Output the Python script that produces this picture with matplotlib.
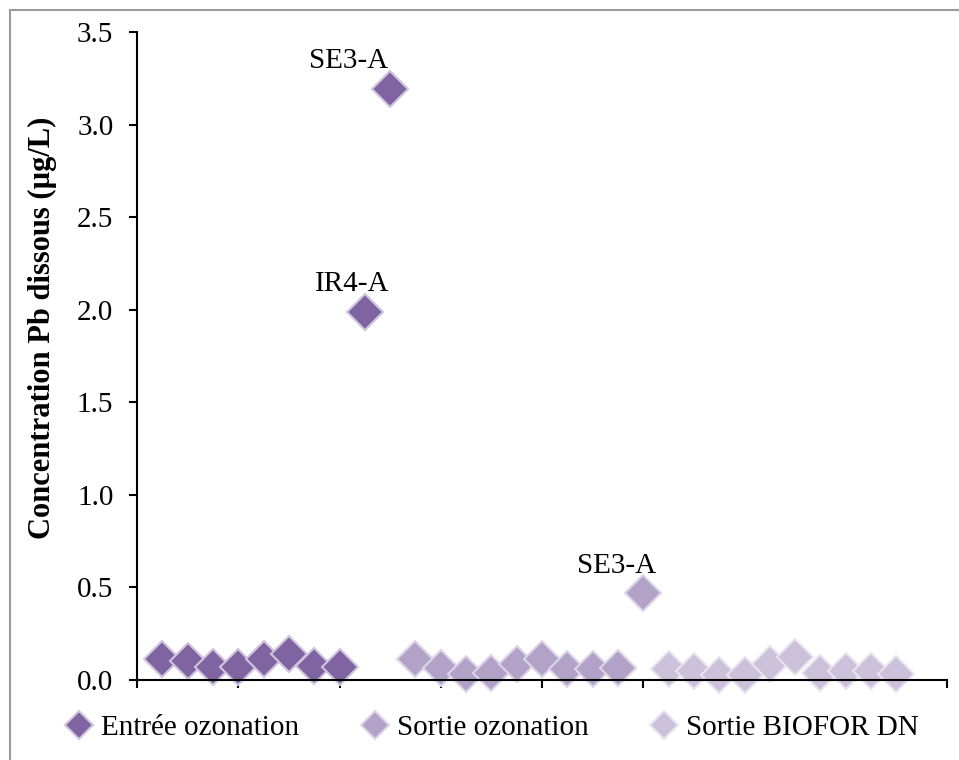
import matplotlib.pyplot as plt
from matplotlib.patches import Rectangle

plt.rcParams['font.family'] = ['Liberation Serif', 'DejaVu Serif']

# x positions are sample numbers along the (unlabelled) axis
x_entree = [1, 2, 3, 4, 5, 6, 7, 8, 9, 10]
y_entree = [0.112, 0.103, 0.070, 0.070, 0.112, 0.140, 0.076, 0.070, 1.99, 3.19]

x_sortie = [11, 12, 13, 14, 15, 16, 17, 18, 19, 20]
y_sortie = [0.112, 0.063, 0.031, 0.036, 0.085, 0.114, 0.058, 0.061, 0.066, 0.468]

x_biofor = [21, 22, 23, 24, 25, 26, 27, 28, 29, 30]
y_biofor = [0.058, 0.050, 0.027, 0.027, 0.085, 0.123, 0.036, 0.050, 0.050, 0.031]

# labelled outliers: (x, y, text)
labels = [(10, 3.19, "SE3-A"), (9, 1.99, "IR4-A"), (20, 0.468, "SE3-A")]
label_offsets = [(-42, 28), (-13, 28), (-27, 27)]  # pixels

W, H = 959, 760
fig = plt.figure(figsize=(W / 100, H / 100), dpi=100)
ax = fig.add_axes([137 / W, (H - 680) / H, 810 / W, 648 / H])

# grey chart border
fig.patches.append(Rectangle((10 / W, -0.1), 1.2, (H - 10) / H + 0.1,
                             transform=fig.transFigure, fill=False,
                             edgecolor='#9a9a9a', lw=1.5))

ms = 18
ax.plot(x_entree, y_entree, 'D', ms=ms, color='#8064A2', mec='#CFC5DE', mew=1.5,
        label='Entrée ozonation', clip_on=False)
ax.plot(x_sortie, y_sortie, 'D', ms=ms, color='#B3A2C7', mec='#DCD4E7', mew=1.5,
        label='Sortie ozonation', clip_on=False)
ax.plot(x_biofor, y_biofor, 'D', ms=ms, color='#CCC1DA', mec='#E8E3EF', mew=1.5,
        label='Sortie BIOFOR DN', clip_on=False)

for (lx, ly, txt), (dx, dy) in zip(labels, label_offsets):
    ax.annotate(txt, (lx, ly), xytext=(dx, dy), textcoords='offset pixels',
                ha='center', va='center', fontsize=21)

ax.set_xlim(0, 32)
ax.set_ylim(0, 3.5)
ax.set_xticks(range(0, 33, 4))
ax.set_xticklabels([])
ax.set_yticks([0, 0.5, 1.0, 1.5, 2.0, 2.5, 3.0, 3.5])
ax.set_yticklabels([f"{v:.1f}" for v in ax.get_yticks()])
ax.tick_params(axis='y', labelsize=21, length=6, width=1.5, pad=11)
ax.tick_params(axis='x', length=6, width=1.5)
for side in ('top', 'right'):
    ax.spines[side].set_visible(False)
for side in ('left', 'bottom'):
    ax.spines[side].set_linewidth(1.5)

fig.text(42 / W, (H - 328) / H, "Concentration Pb dissous (µg/L)",
         rotation=90, ha='center', va='center', fontsize=22, fontweight='bold')

leg = fig.legend(loc='center', bbox_to_anchor=(490 / W, (H - 728) / H), ncol=3,
                 frameon=False, fontsize=21, handletextpad=0.15, columnspacing=2.0,
                 handlelength=1.2, markerscale=0.82)

fig.savefig("out.png", dpi=100)
